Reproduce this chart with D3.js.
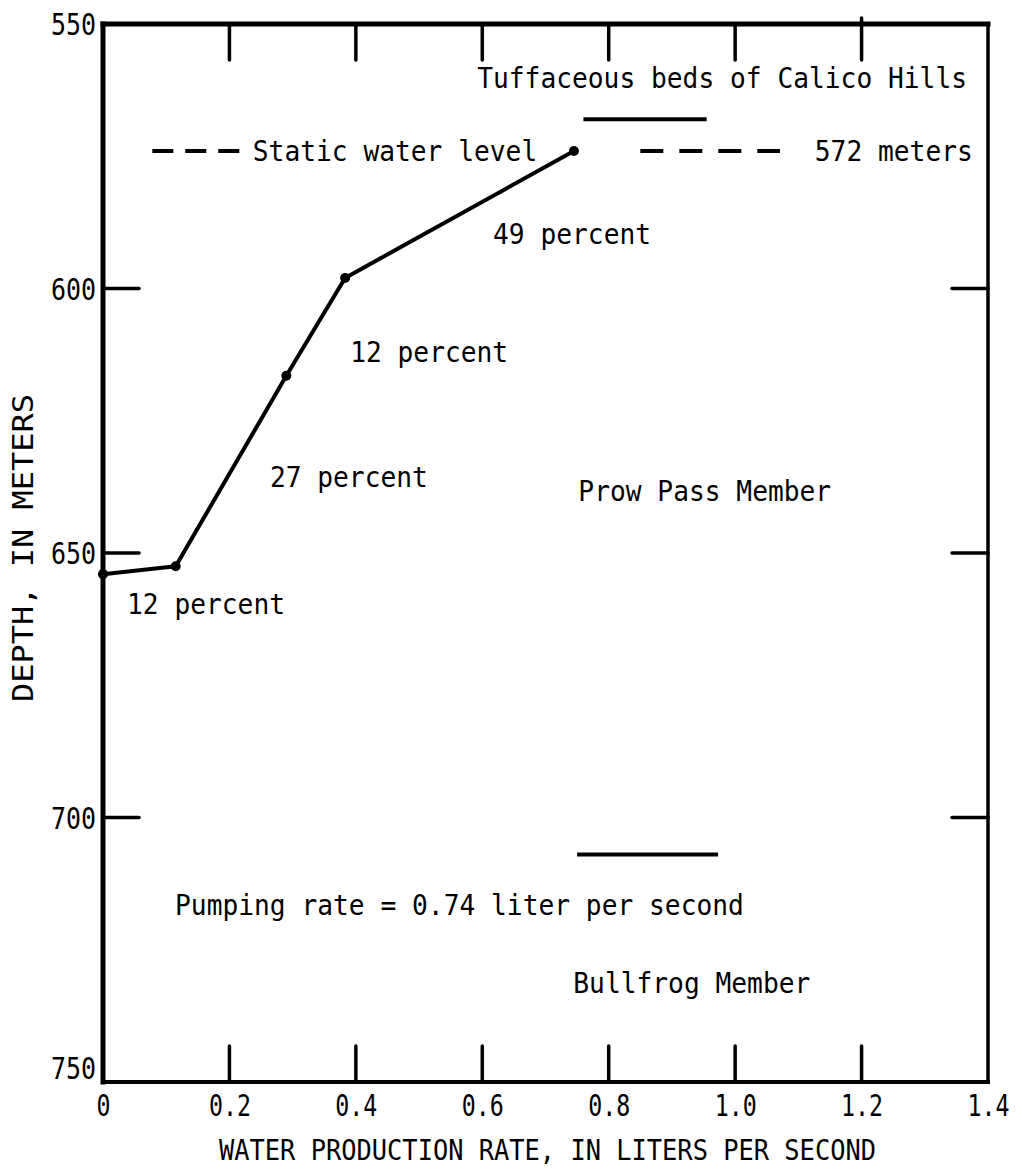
<!DOCTYPE html>
<meta charset="utf-8">
<head>
    <title>Water production rate vs depth</title>
</head>
<style>
    body { margin: 0; background: #fff; }
    text { font-family: "DejaVu Sans Mono", "Liberation Mono", monospace; fill: #000; }
</style>
<body>
    <svg></svg>
    <script src="https://cdnjs.cloudflare.com/ajax/libs/d3/7.8.5/d3.min.js"></script>
    <script>

        // Data
        var rate = [0, 0.115, 0.29, 0.383, 0.745];        // liters per second
        var depth = [654, 652.5, 616.5, 598, 574];        // meters
        var staticDepth = 574;                             // static water level
        var xTicks = [0, 0.2, 0.4, 0.6, 0.8, 1.0, 1.2, 1.4];
        var xTickLabels = ["0", "0.2", "0.4", "0.6", "0.8", "1.0", "1.2", "1.4"];
        var yTicks = [550, 600, 650, 700, 750];

        // unit boundaries (short bars)
        var boundaryDepth = [568, 707];
        var boundaryFrom = [0.76, 0.75];
        var boundaryTo = [0.955, 0.973];

        // annotations: text, start rate, depth
        var noteText = ["Tuffaceous beds of Calico Hills", "Static water level", "572 meters",
            "49 percent", "12 percent", "27 percent", "Prow Pass Member", "12 percent",
            "Pumping rate = 0.74 liter per second", "Bullfrog Member"];
        var noteRate = [0.592, 0.237, 1.126, 0.617, 0.391, 0.264, 0.752, 0.038, 0.114, 0.744];
        var noteDepth = [560.2, 574, 574, 589.7, 612, 635.6, 638.3, 659.5, 716.5, 731.3];

        // Configuration
        var width = 1022;
        var height = 1172;
        var charW = 15.8;

        var x = d3.scaleLinear().domain([0, 1.4]).range([103, 988]);
        var y = d3.scaleLinear().domain([550, 750]).range([24, 1082]);

        var svg = d3.select('svg')
            .attr('width', width)
            .attr('height', height);

        svg.append('rect').attr('width', width).attr('height', height).attr('fill', '#fff');

        // frame
        var frame = svg.append('g').attr('stroke', '#000').attr('stroke-linecap', 'square');
        frame.append('line').attr('x1', x(0)).attr('x2', x(1.4)).attr('y1', y(550)).attr('y2', y(550)).attr('stroke-width', 5);
        frame.append('line').attr('x1', x(0)).attr('x2', x(0)).attr('y1', y(550)).attr('y2', y(750)).attr('stroke-width', 5);
        frame.append('line').attr('x1', x(1.4)).attr('x2', x(1.4)).attr('y1', y(550)).attr('y2', y(750)).attr('stroke-width', 3.5);
        frame.append('line').attr('x1', x(0)).attr('x2', x(1.4)).attr('y1', y(750)).attr('y2', y(750)).attr('stroke-width', 4);

        // inward ticks
        var tickLen = 36;
        var innerX = xTicks.slice(1, -1);
        var innerY = yTicks.slice(1, -1);
        var ticks = svg.append('g').attr('stroke', '#000').attr('stroke-width', 3.5).attr('stroke-linecap', 'round');
        ticks.selectAll('.tt').data(innerX).enter().append('line')
            .attr('x1', d => x(d)).attr('x2', d => x(d))
            .attr('y1', d => d === 1.2 ? y(550) - 6 : y(550)).attr('y2', y(550) + tickLen);
        ticks.selectAll('.tb').data(innerX).enter().append('line')
            .attr('x1', d => x(d)).attr('x2', d => x(d))
            .attr('y1', y(750)).attr('y2', y(750) - tickLen);
        ticks.selectAll('.tl').data(innerY).enter().append('line')
            .attr('x1', x(0)).attr('x2', x(0) + tickLen)
            .attr('y1', d => y(d)).attr('y2', d => y(d));
        ticks.selectAll('.tr').data(innerY).enter().append('line')
            .attr('x1', x(1.4)).attr('x2', x(1.4) - tickLen)
            .attr('y1', d => y(d)).attr('y2', d => y(d));

        // tick labels through d3 axes (no lines)
        var xAxis = svg.append('g')
            .attr('transform', `translate(0, ${y(750)})`)
            .call(d3.axisBottom(x).tickValues(xTicks).tickFormat((d, i) => xTickLabels[i]).tickSize(0).tickPadding(12));
        xAxis.select('.domain').remove();
        xAxis.selectAll('text')
            .attr('font-size', 31)
            .attr('font-family', '"DejaVu Sans Mono", monospace')
            .attr('textLength', d => d === 0 ? 14 : 42)
            .attr('lengthAdjust', 'spacingAndGlyphs');

        var yAxis = svg.append('g')
            .attr('transform', `translate(${x(0)}, 0)`)
            .call(d3.axisLeft(y).tickValues(yTicks).tickFormat(d3.format('d')).tickSize(0).tickPadding(7));
        yAxis.select('.domain').remove();
        yAxis.selectAll('text')
            .attr('font-size', 31)
            .attr('font-family', '"DejaVu Sans Mono", monospace')
            .attr('textLength', 45)
            .attr('lengthAdjust', 'spacingAndGlyphs')
            .attr('dy', d => d === 750 ? '-0.12em' : '0.34em');

        // axis titles
        svg.append('text')
            .attr('x', (x(0) + x(1.4)) / 2 + 2)
            .attr('y', 1160)
            .attr('text-anchor', 'middle')
            .attr('font-size', 29)
            .attr('textLength', 657)
            .attr('lengthAdjust', 'spacingAndGlyphs')
            .text('WATER PRODUCTION RATE, IN LITERS PER SECOND');

        svg.append('text')
            .attr('transform', `translate(33, 548) rotate(-90)`)
            .attr('text-anchor', 'middle')
            .attr('font-size', 28)
            .attr('textLength', 308)
            .attr('lengthAdjust', 'spacingAndGlyphs')
            .text('DEPTH, IN METERS');

        // static water level dashes
        var yStatic = y(staticDepth);
        svg.append('line').attr('x1', x(0.078)).attr('x2', x(0.216)).attr('y1', yStatic).attr('y2', yStatic)
            .attr('stroke', '#000').attr('stroke-width', 4).attr('stroke-dasharray', '21,12');
        svg.append('line').attr('x1', x(0.85)).attr('x2', x(1.071)).attr('y1', yStatic).attr('y2', yStatic)
            .attr('stroke', '#000').attr('stroke-width', 4).attr('stroke-dasharray', '23,16');

        // boundary bars
        svg.append('g').selectAll('line').data(boundaryDepth).enter().append('line')
            .attr('x1', (d, i) => x(boundaryFrom[i]))
            .attr('x2', (d, i) => x(boundaryTo[i]))
            .attr('y1', d => y(d)).attr('y2', d => y(d))
            .attr('stroke', '#000').attr('stroke-width', 4);

        // profile line
        var pts = rate.map((r, i) => [r, depth[i]]);
        var line = d3.line().x(d => x(d[0])).y(d => y(d[1]));
        svg.append('path')
            .attr('d', line(pts))
            .attr('fill', 'none')
            .attr('stroke', '#000')
            .attr('stroke-width', 4)
            .attr('stroke-linejoin', 'round');

        svg.append('g').selectAll('circle').data(pts).enter().append('circle')
            .attr('cx', d => x(d[0]))
            .attr('cy', d => y(d[1]))
            .attr('r', 5)
            .attr('fill', '#000');

        // annotations
        svg.append('g').selectAll('text').data(noteText).enter().append('text')
            .attr('x', (d, i) => x(noteRate[i]))
            .attr('y', (d, i) => y(noteDepth[i]))
            .attr('dy', '0.36em')
            .attr('font-size', 28.5)
            .attr('textLength', d => d.length * charW)
            .attr('lengthAdjust', 'spacingAndGlyphs')
            .text(d => d);

    </script>
</body>
</html>
